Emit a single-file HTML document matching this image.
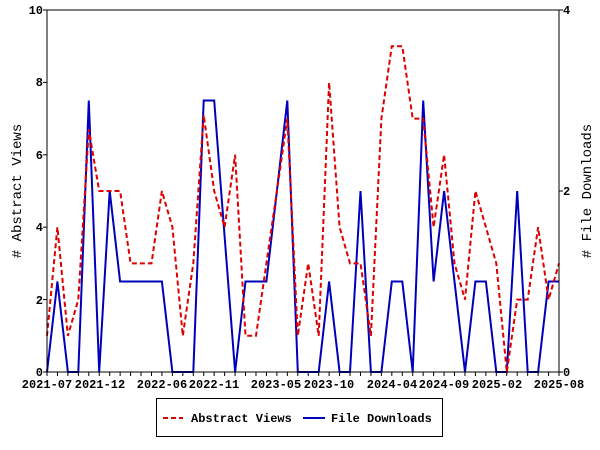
<!DOCTYPE html>
<html><head><meta charset="utf-8"><style>
html,body{margin:0;padding:0;background:#fff;width:600px;height:450px;overflow:hidden}
text{font-family:"Liberation Mono","DejaVu Sans Mono",monospace;font-weight:bold;font-size:12px;fill:#000}
</style></head><body>
<svg id="s" width="600" height="450" xmlns="http://www.w3.org/2000/svg">
<rect x="0" y="0" width="600" height="450" fill="#fff"/>
<g id="g"></g>
<line x1="47" y1="10" x2="559" y2="10" stroke="#000"/>
<line x1="47" y1="10" x2="47" y2="372" stroke="#000"/>
<line x1="559" y1="10" x2="559" y2="372" stroke="#000"/>
<line x1="47" y1="372" x2="559" y2="372" stroke="#000"/>
<g text-anchor="end">
<text x="43" y="376">0</text><text x="43" y="304">2</text><text x="43" y="231">4</text>
<text x="43" y="159">6</text><text x="43" y="86">8</text><text x="43" y="14">10</text>
</g>
<g text-anchor="start">
<text x="563" y="376">0</text><text x="563" y="195">2</text><text x="563" y="14">4</text>
</g>
<g text-anchor="middle">
<text x="47" y="388">2021-07</text><text x="100" y="388">2021-12</text><text x="162" y="388">2022-06</text>
<text x="214" y="388">2022-11</text><text x="276" y="388">2023-05</text><text x="329" y="388">2023-10</text>
<text x="392" y="388">2024-04</text><text x="444" y="388">2024-09</text><text x="497" y="388">2025-02</text>
<text x="559" y="388">2025-08</text>
</g>
<text x="21" y="191" text-anchor="middle" transform="rotate(-90 21 191)" style="font-size:14px;font-weight:normal">&#35; Abstract Views</text>
<text x="591" y="191" text-anchor="middle" transform="rotate(-90 591 191)" style="font-size:14px;font-weight:normal">&#35; File Downloads</text>
<rect x="156.5" y="398.5" width="286" height="38" fill="#fff" stroke="#000"/>
<line x1="163" y1="418" x2="183" y2="418" stroke="#d00" stroke-width="2" stroke-dasharray="5,3"/>
<text x="191" y="422">Abstract Views</text>
<line x1="303" y1="418" x2="325" y2="418" stroke="#00b" stroke-width="2"/>
<text x="331" y="422">File Downloads</text>
</svg>
<script>
var v=[1,4,1,2,6.7,5,5,5,3,3,3,5,4,1,3,7.1,5,4,6,1,1,3,5,7,1,3,1,8,4,3,3,1,7,9,9,7,7,4,6,3,2,5,4,3,0,2,2,4,2,3];
var d=[0,1,0,0,3,0,2,1,1,1,1,1,0,0,0,3,3,1.5,0,1,1,1,2,3,0,0,0,1,0,0,2,0,0,1,1,0,3,1,2,1,0,1,1,0,0,2,0,0,1,1];
var st=512/49,g=document.getElementById('g'),h='';
for(var i=0;i<50;i++){var x=47+st*i;h+='<line x1="'+x+'" y1="372" x2="'+x+'" y2="376" stroke="#000"/>';}
[0,2,4,6,8,10].forEach(function(t){var y=372-t*36.2;h+='<line x1="43" y1="'+y+'" x2="47" y2="'+y+'" stroke="#000"/>';});
[0,2,4].forEach(function(t){var y=372-t*90.5;h+='<line x1="559" y1="'+y+'" x2="563" y2="'+y+'" stroke="#000"/>';});
var pv='',pd='';
for(i=0;i<50;i++){var x=47+st*i;pv+=x.toFixed(1)+','+(372-v[i]*36.2).toFixed(1)+' ';pd+=x.toFixed(1)+','+(372-d[i]*90.5).toFixed(1)+' ';}
h+='<polyline points="'+pd+'" fill="none" stroke="#00b" stroke-width="2"/>';
h+='<polyline points="'+pv+'" fill="none" stroke="#d00" stroke-width="2" stroke-dasharray="5,3"/>';
g.innerHTML=h;
</script>
</body></html>
